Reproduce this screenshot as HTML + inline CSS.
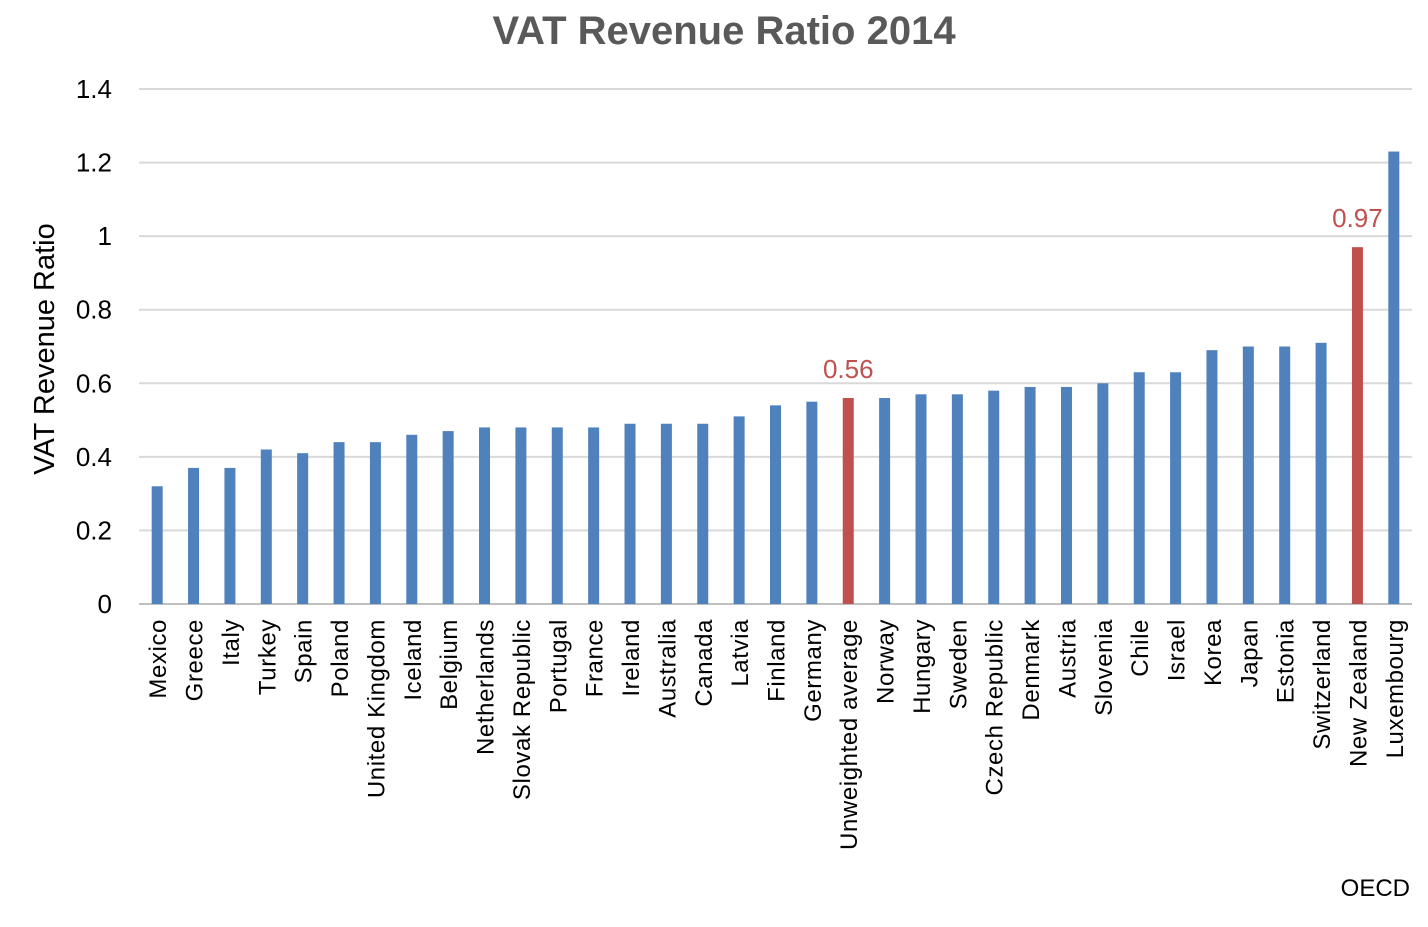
<!DOCTYPE html>
<html><head><meta charset="utf-8"><style>
body{margin:0;background:#fff;}
svg text{font-family:"Liberation Sans",sans-serif;}
</style></head><body>
<svg id="chart" width="1428" height="922" xmlns="http://www.w3.org/2000/svg">
<text x="724" y="44" text-anchor="middle" font-size="40" font-weight="bold" fill="#595959">VAT Revenue Ratio 2014</text>
<text transform="translate(54,349) rotate(-90)" text-anchor="middle" font-size="29" fill="#000">VAT Revenue Ratio</text>
<text x="1410" y="896" text-anchor="end" font-size="24" fill="#000">OECD</text>
<g id="grid"></g><g id="bars"></g><g id="labels"></g>
</svg>
<script>
const categories=["Mexico","Greece","Italy","Turkey","Spain","Poland","United Kingdom","Iceland","Belgium","Netherlands","Slovak Republic","Portugal","France","Ireland","Australia","Canada","Latvia","Finland","Germany","Unweighted average","Norway","Hungary","Sweden","Czech Republic","Denmark","Austria","Slovenia","Chile","Israel","Korea","Japan","Estonia","Switzerland","New Zealand","Luxembourg"];
const values=[0.32,0.37,0.37,0.42,0.41,0.44,0.44,0.46,0.47,0.48,0.48,0.48,0.48,0.49,0.49,0.49,0.51,0.54,0.55,0.56,0.56,0.57,0.57,0.58,0.59,0.59,0.60,0.63,0.63,0.69,0.70,0.70,0.71,0.97,1.23];
const highlighted=["Unweighted average","New Zealand"];
const ticks=[0,0.2,0.4,0.6,0.8,1,1.2,1.4];
const tickLabels=["0","0.2","0.4","0.6","0.8","1","1.2","1.4"];
const NS="http://www.w3.org/2000/svg";
const x0=139,x1=1412,y0=604,y1=89,ymax=1.4;
const yScale=v=>y0-(v/ymax)*(y0-y1);
const step=(x1-x0)/categories.length;
const xScale=i=>x0+step*(i+0.5);
function mk(t,a,p){const e=document.createElementNS(NS,t);for(const k in a)e.setAttribute(k,a[k]);p.appendChild(e);return e;}
const grid=document.getElementById('grid'),bars=document.getElementById('bars'),labels=document.getElementById('labels');
ticks.forEach((t,i)=>{
  const l=mk('line',{x1:x0,x2:x1,y1:yScale(t),y2:yScale(t),stroke:t===0?'#bfbfbf':'#d9d9d9','stroke-width':2},grid);
  
  
  const tx=mk('text',{x:112,y:yScale(t)+9,'text-anchor':'end','font-size':26,fill:'#000'},grid);
  tx.textContent=tickLabels[i];
  
  
});
categories.forEach((c,i)=>{
  const hl=highlighted.includes(c);
  const cx=xScale(i),w=11;
  const r=mk('rect',{x:cx-w/2,y:yScale(values[i]),width:w,height:y0-yScale(values[i]),fill:hl?'#c0504d':'#4f81bd'},bars);
  
  
  const t=mk('text',{transform:`translate(${cx+9},619) rotate(-90)`,'text-anchor':'end','font-size':24,'letter-spacing':'0.6',fill:'#000'},labels);
  t.textContent=c;
  
  
  if(hl){
    const v=mk('text',{x:cx,y:yScale(values[i])-20,'text-anchor':'middle','font-size':26,fill:'#c0504d'},labels);
    v.textContent=values[i].toFixed(2);
    
    
  }
});
</script>
</body></html>
